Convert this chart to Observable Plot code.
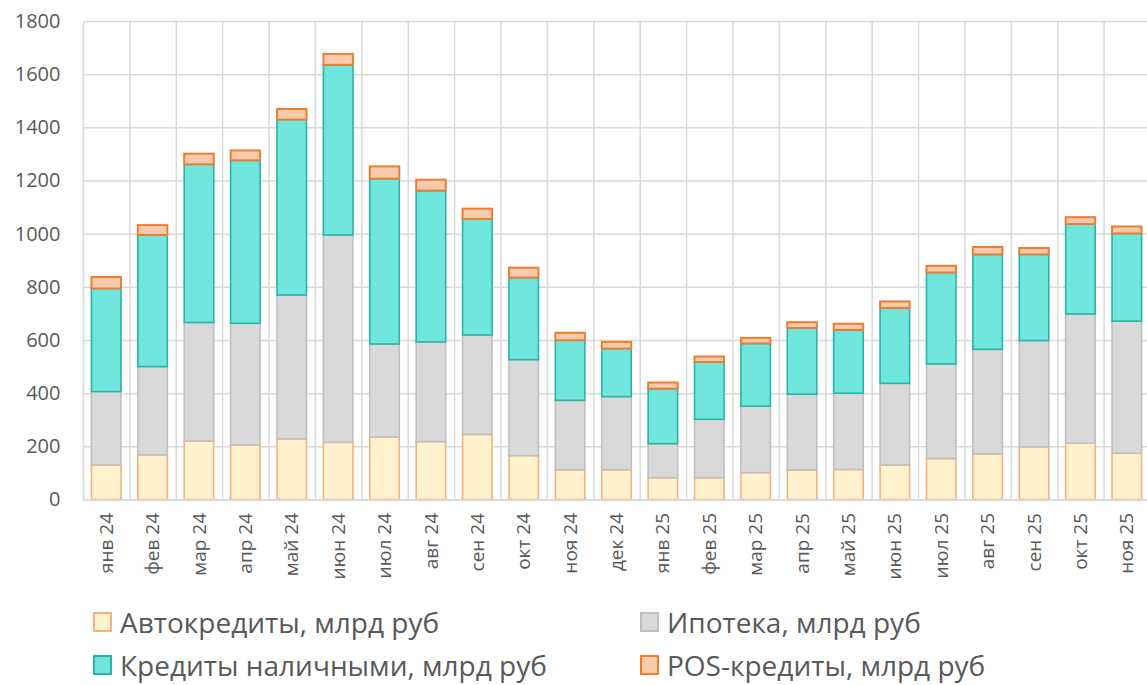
<!DOCTYPE html>
<html>
<head>
<meta charset="utf-8">
<script src="https://cdn.jsdelivr.net/npm/d3@7"></script>
<script src="https://cdn.jsdelivr.net/npm/@observablehq/plot@0.6"></script>
<style>
  html, body { margin: 0; padding: 0; background: #fff; overflow: hidden; }
  #chart svg { display: block; }
  #legend { position: absolute; left: 0; top: 0; width: 1147px; font-family: "Open Sans", sans-serif; font-size: 28px; color: #595959; }
  .item { position: absolute; display: flex; align-items: center; white-space: nowrap; height: 40px; line-height: 32px; }
  .sw { width: 15px; height: 16px; border: 2px solid; margin-right: 8px; box-sizing: content-box; }
</style>
</head>
<body>
<div id="chart"></div>
<div id="legend"></div>
<script>
const months = ["янв 24","фев 24","мар 24","апр 24","май 24","июн 24","июл 24","авг 24","сен 24","окт 24","ноя 24","дек 24",
                "янв 25","фев 25","мар 25","апр 25","май 25","июн 25","июл 25","авг 25","сен 25","окт 25","ноя 25"];
const seriesNames = ["Автокредиты, млрд руб","Ипотека, млрд руб","Кредиты наличными, млрд руб","POS-кредиты, млрд руб"];
const auto  = [130,168,220,205,228,215,235,218,245,165,112,112, 82, 82,101,111,113,130,154,171,198,212,174];
const ipoteka = [276,332,446,458,541,780,350,375,374,361,261,275,128,220,250,285,287,307,356,394,400,486,497];
const cash  = [388,495,595,613,660,640,622,569,436,309,226,181,207,215,236,249,238,283,344,357,324,338,330];
const pos   = [ 43, 37, 40, 37, 40, 41, 46, 41, 39, 37, 28, 25, 23, 21, 21, 22, 23, 25, 25, 28, 24, 26, 26];
const yTicks = [0,200,400,600,800,1000,1200,1400,1600,1800];

const fills   = ["#FFF2CC","#D9D9D9","#71E6DD","#F8CBAD"];
const strokes = ["#F4B183","#BFBFBF","#26B5A8","#ED7D31"];

const valuesBySeries = [auto, ipoteka, cash, pos];
const data = [];
seriesNames.forEach((s, si) => months.forEach((m, mi) => data.push({month: m, series: s, value: valuesBySeries[si][mi]})));

const W = 1147, H = 585;
const mL = 83, mT = 21, mB = 85.5;
const xRange = [83, 1150];
const step = (xRange[1] - xRange[0]) / months.length;
const inset = (step - 29.5) / 2;

const chart = Plot.plot({
  width: W, height: H,
  marginLeft: mL, marginRight: 0, marginTop: mT, marginBottom: mB,
  style: {fontFamily: "'Open Sans', sans-serif", color: "#595959", background: "#fff", overflow: "hidden"},
  x: {domain: months, padding: 0, round: false, range: xRange, label: null},
  y: {domain: [0, 1800], label: null},
  color: {domain: seriesNames, range: fills},
  marks: [
    Plot.gridY(yTicks, {stroke: "#D9D9D9", strokeOpacity: 1, strokeWidth: 1.5}),
    Plot.ruleX(months, {x: d => d, dx: -step / 2, stroke: "#D9D9D9", strokeWidth: 1.5}),
    Plot.barY(data, Plot.stackY({
      x: "month", y: "value", z: "series", order: seriesNames,
      fill: "series",
      stroke: d => strokes[seriesNames.indexOf(d.series)],
      strokeWidth: d => d.series === seriesNames[3] ? 2 : 1.6,
      insetLeft: inset, insetRight: inset
    })),
    Plot.ruleY([0], {stroke: "#D9D9D9", strokeWidth: 1.5}),
    Plot.axisY(yTicks, {tickSize: 0, tickPadding: 23, fontSize: 20, fill: "#595959", tickFormat: d => String(d)}),
    Plot.axisX({tickSize: 0, tickRotate: -90, tickPadding: 13, fontSize: 19, fill: "#595959"})
  ]
});
document.getElementById("chart").appendChild(chart);

const legend = document.getElementById("legend");
const pos_ = [[93, 622], [640, 622], [93, 665], [640, 665]];
seriesNames.forEach((s, i) => {
  const it = document.createElement("div");
  it.className = "item";
  it.style.left = pos_[i][0] + "px";
  it.style.top = (pos_[i][1] - 20) + "px";
  const sw = document.createElement("span");
  sw.className = "sw";
  sw.style.background = fills[i];
  sw.style.borderColor = strokes[i];
  const tx = document.createElement("span");
  tx.textContent = s;
  it.appendChild(sw); it.appendChild(tx);
  legend.appendChild(it);
});
</script>
</body>
</html>
